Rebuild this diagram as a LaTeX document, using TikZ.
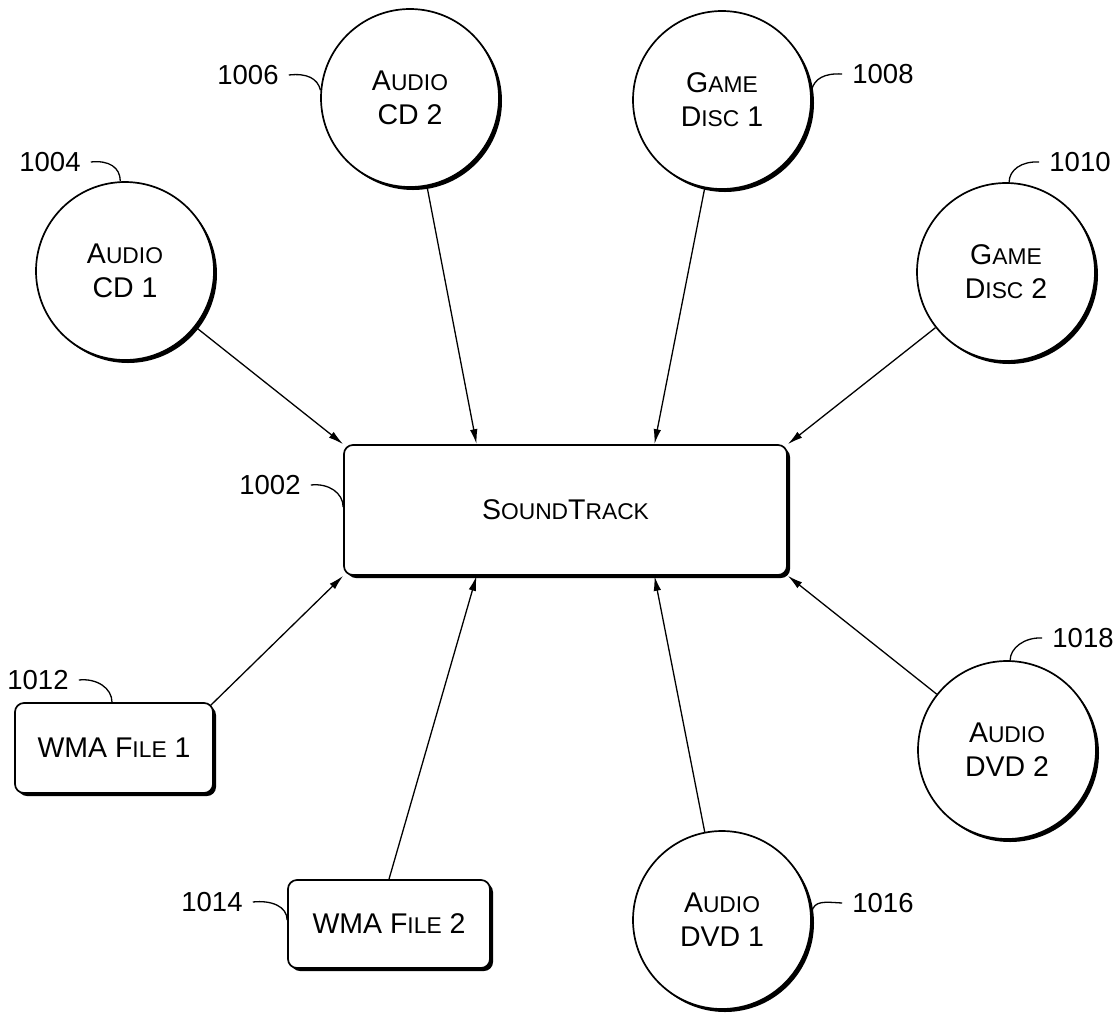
\documentclass[tikz,border=0pt]{standalone}
\usepackage{fontspec}
\setmainfont{Liberation Sans}
\usetikzlibrary{arrows.meta,shadows,calc}
\newcommand\smc[1]{{\fontsize{22.8}{34}\selectfont #1}}
\begin{document}
\begin{tikzpicture}[x=1pt,y=-1pt,
  shd/.style={drop shadow={shadow xshift=3pt,shadow yshift=-3pt,opacity=1,fill=black}},
  disc/.style={circle,draw,line width=1.7pt,fill=white,minimum size=178pt,inner sep=0pt,align=center,font=\fontsize{28.5}{34}\selectfont,shd},
  box/.style={rectangle,rounded corners=9pt,draw,line width=1.7pt,fill=white,inner sep=0pt,align=center,font=\fontsize{28.5}{34}\selectfont,shd},
  lbl/.style={font=\fontsize{27.5}{33}\selectfont,inner sep=0pt},
  feed/.style={line width=1.3pt,-{Latex[length=15pt,width=7.5pt]}},
  lead/.style={line width=1.3pt}]
\useasboundingbox (0,0) rectangle (1120,1013);

\node[box,minimum width=443pt,minimum height=130pt] (st) at (565.5,510) {S\smc{OUND}T\smc{RACK}};
\node[disc] (cd1) at (125,271) {A\smc{UDIO}\\CD 1};
\node[disc] (cd2) at (410,98) {A\smc{UDIO}\\CD 2};
\node[disc] (gd1) at (722,100) {G\smc{AME}\\D\smc{ISC} 1};
\node[disc] (gd2) at (1006,272) {G\smc{AME}\\D\smc{ISC} 2};
\node[disc] (dvd2) at (1007,750) {A\smc{UDIO}\\DVD 2};
\node[disc] (dvd1) at (722,920) {A\smc{UDIO}\\DVD 1};
\node[box,minimum width=198pt,minimum height=90pt] (wma1) at (114,748) {WMA F\smc{ILE} 1};
\node[box,minimum width=202pt,minimum height=88pt] (wma2) at (389,924) {WMA F\smc{ILE} 2};

\node[lbl] (n1002) at (270,485) {1002};
\node[lbl] (n1004) at (50,162) {1004};
\node[lbl] (n1006) at (248,75) {1006};
\node[lbl] (n1008) at (883,74) {1008};
\node[lbl] (n1010) at (1080,162) {1010};
\node[lbl] (n1012) at (38,680) {1012};
\node[lbl] (n1014) at (212,902) {1014};
\node[lbl] (n1016) at (883,903) {1016};
\node[lbl] (n1018) at (1083,638) {1018};

\draw[lead] ([xshift=10pt]n1004.east) .. controls +(18,-2) and +(0,-14) .. (cd1.93);
\draw[lead] ([xshift=10pt]n1006.east) .. controls +(18,-2) and +(-3,-12) .. (cd2.175);
\draw[lead] ([xshift=-10pt]n1008.west) .. controls +(-18,-1) and +(3,-12) .. (gd1.6);
\draw[lead] ([xshift=-10pt]n1010.west) .. controls +(-18,-1) and +(0,-12) .. (gd2.88);
\draw[lead] ([xshift=10pt]n1002.east) .. controls +(18,-2) and +(0,-14) .. ([yshift=3pt]st.west);
\draw[lead] ([xshift=10pt]n1012.east) .. controls +(18,-2) and +(0,-14) .. ([xshift=-2pt]wma1.north);
\draw[lead] ([xshift=10pt]n1014.east) .. controls +(18,-2) and +(0,-14) .. ([yshift=4pt]wma2.west);
\draw[lead] ([xshift=-10pt]n1016.west) .. controls +(-18,-1) and +(3,-12) .. (dvd1.5);
\draw[lead] ([xshift=-10pt]n1018.west) .. controls +(-18,-1) and +(0,-12) .. (dvd2.88);

\draw[feed] (cd1) -- (st.north west);
\draw[feed] (cd2) -- ($(st.north west)!0.3!(st.north east)$);
\draw[feed] (gd1) -- ($(st.north west)!0.7!(st.north east)$);
\draw[feed] (gd2) -- (st.north east);
\draw[feed] ([shift={(-3pt,-3pt)}]wma1.north east) -- (st.south west);
\draw[feed] (wma2.north) -- ($(st.south west)!0.3!(st.south east)$);
\draw[feed] (dvd1) -- ($(st.south west)!0.7!(st.south east)$);
\draw[feed] (dvd2) -- (st.south east);
\end{tikzpicture}
\end{document}
